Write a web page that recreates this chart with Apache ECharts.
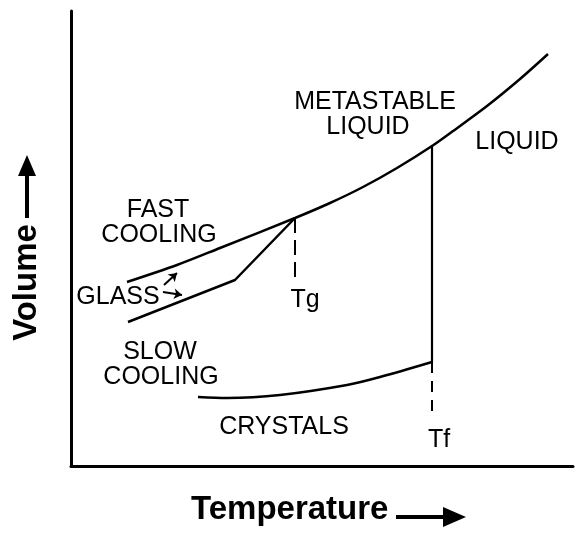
<!DOCTYPE html>
<html>
<head>
<meta charset="utf-8">
<script src="https://cdn.jsdelivr.net/npm/echarts@6/dist/echarts.min.js"></script>
<style>
  html, body { margin: 0; padding: 0; background: #fff; }
  #chart { width: 575px; height: 533px; }
</style>
</head>
<body>
<div id="chart"></div>
<script>
// liquid / metastable liquid / fast cooling curve
const liquidTemp = [56, 106, 149, 224, 259, 292, 326, 361, 382, 416, 449, 477];
const liquidVol = [184, 201, 218, 248, 263, 279, 298, 320, 335, 360, 387, 412];
// glass branch (slow cooling)
const glassTemp = [57, 164, 224];
const glassVol = [144, 186, 248];
// crystals
const crystalTemp = [127, 156, 209, 276, 309, 361];
const crystalVol = [69, 68, 71, 81, 89, 104];
// Tf solidification jump, Tg / Tf markers
const tfJumpTemp = [361, 361];
const tfJumpVol = [320, 104];
const tgDashTemp = [224, 224];
const tgDashVol = [248, 184];
const tfDashTemp = [361, 361];
const tfDashVol = [104, 48];
// arrows from GLASS label
const glassArrows = [[[93, 181], [106, 193]], [[92, 174], [111, 171]]];
// text annotations
const labelTexts = ['METASTABLE', 'LIQUID', 'LIQUID', 'FAST', 'COOLING', 'GLASS', 'SLOW', 'COOLING', 'CRYSTALS', 'Tg', 'Tf'];
const labelTemp = [304, 297, 446, 87, 88, 47, 89, 90, 213, 234, 368];
const labelVol = [364, 339, 324, 256, 231, 169, 114, 89, 39, 166, 26];

const zip = (a, b) => a.map((v, i) => [v, b[i]]);
const font = "'Liberation Sans', Arial, Helvetica, sans-serif";

function lineSeries(xs, ys, opts) {
  return Object.assign({
    type: 'line',
    data: zip(xs, ys),
    symbol: 'none',
    silent: true,
    lineStyle: { color: '#000', width: 2.5 }
  }, opts || {});
}

const chart = echarts.init(document.getElementById('chart'));
chart.setOption({
  animation: false,
  backgroundColor: '#fff',
  grid: { left: 71, right: 2, top: 11, bottom: 67 },
  xAxis: {
    type: 'value', min: 0, max: 502,
    axisLine: { show: true, lineStyle: { color: '#000', width: 3 } },
    axisTick: { show: false }, axisLabel: { show: false }, splitLine: { show: false }
  },
  yAxis: {
    type: 'value', min: 0, max: 455,
    axisLine: { show: true, lineStyle: { color: '#000', width: 3 } },
    axisTick: { show: false }, axisLabel: { show: false }, splitLine: { show: false }
  },
  series: [
    lineSeries(liquidTemp, liquidVol, { smooth: 0.3 }),
    lineSeries(glassTemp, glassVol, {
      markLine: {
        silent: true,
        symbol: ['none', 'arrow'],
        symbolSize: 8,
        label: { show: false },
        lineStyle: { color: '#000', width: 2, type: 'solid' },
        data: glassArrows.map(a => [{ coord: a[0] }, { coord: a[1] }])
      }
    }),
    lineSeries(crystalTemp, crystalVol, { smooth: 0.3 }),
    lineSeries(tfJumpTemp, tfJumpVol, { lineStyle: { color: '#000', width: 2.2 } }),
    lineSeries(tgDashTemp, tgDashVol, { lineStyle: { color: '#000', width: 2, type: [15, 7] } }),
    lineSeries(tfDashTemp, tfDashVol, { lineStyle: { color: '#000', width: 2, type: [11, 8] } }),
    {
      type: 'scatter',
      silent: true,
      symbolSize: 0,
      itemStyle: { opacity: 1 },
      data: labelTexts.map((t, i) => ({ name: t, value: [labelTemp[i], labelVol[i]] })),
      label: {
        show: true,
        position: 'inside',
        formatter: p => p.name,
        color: '#000',
        fontFamily: font,
        fontSize: 25,
        align: 'center',
        verticalAlign: 'middle'
      }
    }
  ],
  graphic: [
    {
      type: 'text', x: 26.5, y: 282.5, rotation: Math.PI / 2,
      style: { text: 'Volume', fill: '#000', font: 'bold 33px ' + font, textAlign: 'center', textVerticalAlign: 'middle' }
    },
    { type: 'rect', shape: { x: 25, y: 172, width: 4, height: 46 }, style: { fill: '#000' } },
    { type: 'polygon', shape: { points: [[18, 176], [27, 155], [36, 176]] }, style: { fill: '#000' } },
    {
      type: 'text', x: 191, y: 510,
      style: { text: 'Temperature', fill: '#000', font: 'bold 33px ' + font, textAlign: 'left', textVerticalAlign: 'middle' }
    },
    { type: 'rect', shape: { x: 396, y: 515, width: 51, height: 4 }, style: { fill: '#000' } },
    { type: 'polygon', shape: { points: [[443, 507], [466, 517], [443, 527]] }, style: { fill: '#000' } }
  ]
});
</script>
</body>
</html>
